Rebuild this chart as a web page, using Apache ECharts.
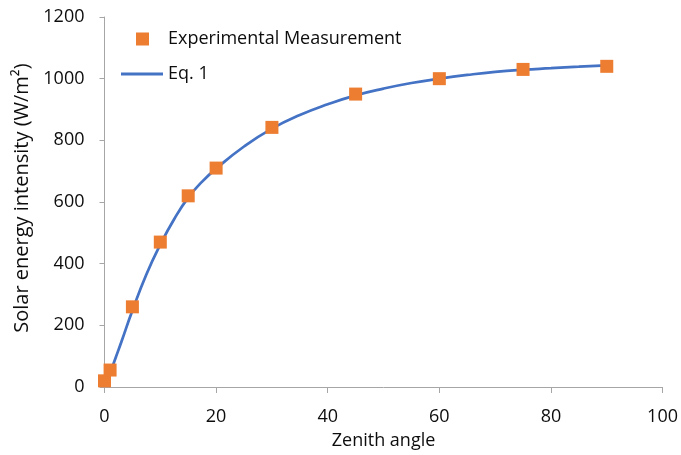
<!DOCTYPE html>
<html>
<head>
<meta charset="utf-8">
<script src="https://cdn.jsdelivr.net/npm/echarts@6/dist/echarts.min.js"></script>
<style>
html, body { margin: 0; padding: 0; background: #fff; }
#chart { width: 681px; height: 455px; }
</style>
</head>
<body>
<div id="chart"></div>
<script>
// measured points
var measX = [0, 1, 5, 10, 15, 20, 30, 45, 60, 75, 90];
var measY = [20, 55, 260, 470, 620, 710, 842, 950, 1000, 1030, 1040];

// Eq. 1 curve
var eqX = [1, 2, 3, 5, 7.5, 10, 12.5, 15, 17.5, 20, 25, 30, 35, 40, 45, 50, 55, 60, 65, 70, 75, 80, 85, 90];
var eqY = [45, 95, 145, 248, 365, 462, 545, 614, 666, 708, 780, 838, 882, 917, 946, 968, 986, 1000, 1012, 1022, 1029, 1034, 1039, 1043];

var xTicks = [0, 20, 40, 60, 80, 100];
var yTicks = [0, 200, 400, 600, 800, 1000, 1200];

var font = '"Open Sans", sans-serif';
var txt = '#0d0d0d';
var axisGrey = '#A6A6A6';

function pairs(xs, ys) {
  return xs.map(function (x, i) { return [x, ys[i]]; });
}

var chart = echarts.init(document.getElementById('chart'));
var option = {
  animation: false,
  textStyle: { fontFamily: font },
  grid: { left: 104.5, right: 16.5, top: 17, bottom: 66 },
  legend: [
    {
      data: ['Experimental Measurement'],
      left: 131, top: 25,
      icon: 'rect', itemWidth: 13, itemHeight: 13,
      textStyle: { fontFamily: font, fontSize: 18, color: txt, padding: [0, 0, 0, 14] }
    },
    {
      data: ['Eq. 1'],
      left: 116, top: 60,
      icon: 'rect', itemWidth: 42, itemHeight: 3,
      textStyle: { fontFamily: font, fontSize: 18, color: txt }
    }
  ],
  xAxis: {
    type: 'value',
    min: xTicks[0], max: xTicks[xTicks.length - 1], interval: 20,
    name: 'Zenith angle',
    nameLocation: 'middle', nameGap: 45,
    nameTextStyle: { fontFamily: font, fontSize: 18, color: txt },
    axisLine: { show: true, lineStyle: { color: axisGrey, width: 1 } },
    axisTick: { show: true, length: 6, lineStyle: { color: axisGrey } },
    axisLabel: { fontFamily: font, fontSize: 18, color: txt, margin: 21 },
    splitLine: { show: false }
  },
  yAxis: {
    type: 'value',
    min: yTicks[0], max: yTicks[yTicks.length - 1], interval: 200,
    name: 'Solar energy intensity (W/m\u00B2)',
    nameLocation: 'middle', nameGap: 69,
    nameTextStyle: { fontFamily: font, fontSize: 20, color: txt, padding: [0, 0, 0, 8] },
    axisLine: { show: true, lineStyle: { color: axisGrey, width: 1 } },
    axisTick: { show: true, length: 5, lineStyle: { color: axisGrey } },
    axisLabel: { fontFamily: font, fontSize: 18, color: txt, margin: 20,
      formatter: function (v) { return String(v); } },
    splitLine: { show: false }
  },
  series: [
    {
      name: 'Eq. 1',
      type: 'line',
      smooth: true,
      symbol: 'none',
      lineStyle: { color: '#4472C4', width: 2.75 },
      itemStyle: { color: '#4472C4' },
      data: pairs(eqX, eqY),
      z: 2
    },
    {
      name: 'Experimental Measurement',
      type: 'scatter',
      symbol: 'rect',
      symbolSize: 13,
      itemStyle: { color: '#ED7D31', opacity: 1 },
      data: pairs(measX, measY),
      z: 3
    }
  ]
};
chart.setOption(option);
</script>
</body>
</html>
